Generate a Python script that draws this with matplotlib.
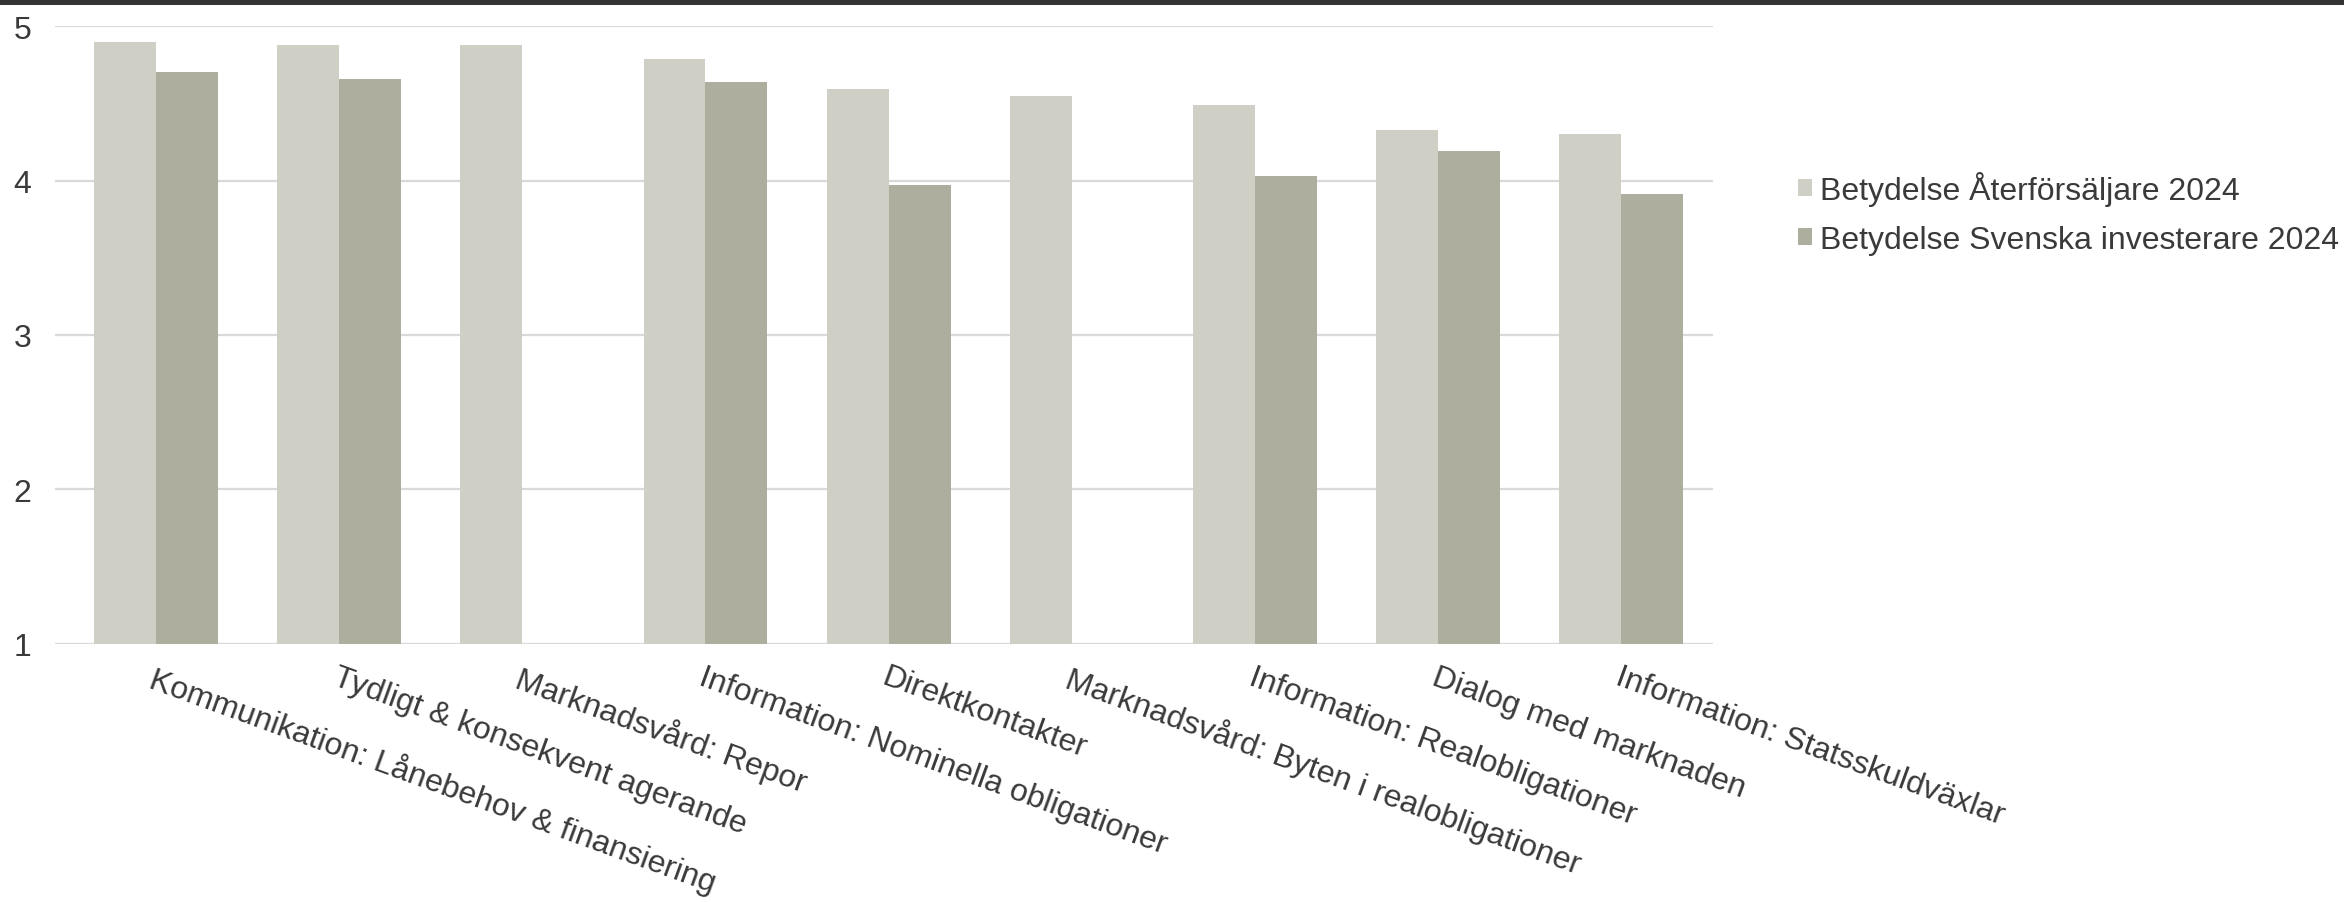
import numpy as np
import matplotlib
matplotlib.use("Agg")
import matplotlib.pyplot as plt
from matplotlib.patches import Rectangle

# data
categories = [
    "Kommunikation: Lånebehov & finansiering",
    "Tydligt & konsekvent agerande",
    "Marknadsvård: Repor",
    "Information: Nominella obligationer",
    "Direktkontakter",
    "Marknadsvård: Byten i realobligationer",
    "Information: Realobligationer",
    "Dialog med marknaden",
    "Information: Statsskuldväxlar",
]
aterforsaljare = [4.90, 4.88, 4.88, 4.79, 4.59, 4.55, 4.49, 4.33, 4.30]
investerare = [4.70, 4.66, np.nan, 4.64, 3.97, np.nan, 4.03, 4.19, 3.91]
series_names = ["Betydelse Återförsäljare 2024", "Betydelse Svenska investerare 2024"]
yticks = [1, 2, 3, 4, 5]

light = "#CFCFC5"
dark = "#ADAE9D"
text_color = "#3A3A3A"
grid_color = "#D9D9D9"
fs = 23

plt.rcParams['font.family'] = ['Liberation Sans', 'DejaVu Sans']

fig = plt.figure(figsize=(23.44, 9.03), dpi=100)
ax = fig.add_axes([0.0235, 0.286, 0.7073, 0.684])

x = np.arange(len(categories))
w = 0.338
base = 1
ax.bar(x - w / 2, np.array(aterforsaljare) - base, w, bottom=base, color=light, label=series_names[0], zorder=3)
ax.bar(x + w / 2, np.array(investerare) - base, w, bottom=base, color=dark, label=series_names[1], zorder=3)

ax.set_xlim(-0.55, len(categories) - 0.5)
ax.set_ylim(1, 5)
ax.set_yticks(yticks)
ax.set_yticklabels([str(t) for t in yticks])
for t in yticks:
    ax.axhline(t, color=grid_color, lw=1.6, zorder=1)

for s in ax.spines.values():
    s.set_visible(False)
ax.tick_params(axis='both', length=0, labelsize=fs, colors=text_color)
ax.tick_params(axis='y', pad=17)
ax.tick_params(axis='x', pad=13)
ax.set_xticks(x)
ax.set_xticklabels(categories, rotation=-20, ha='left', va='top', rotation_mode='anchor')

fig.legend(loc='center left', bbox_to_anchor=(0.767, 0.763), frameon=False,
           fontsize=fs, labelcolor=text_color, handlelength=0.45, handleheight=0.45,
           handletextpad=0.25, labelspacing=0.6, borderpad=0, borderaxespad=0)

# dark band at the top edge
fig.patches.append(Rectangle((0, 1 - 6 / 903), 1, 6 / 903, transform=fig.transFigure,
                             facecolor="#333333", edgecolor="none", zorder=10))

fig.savefig("out.png", dpi=100)
